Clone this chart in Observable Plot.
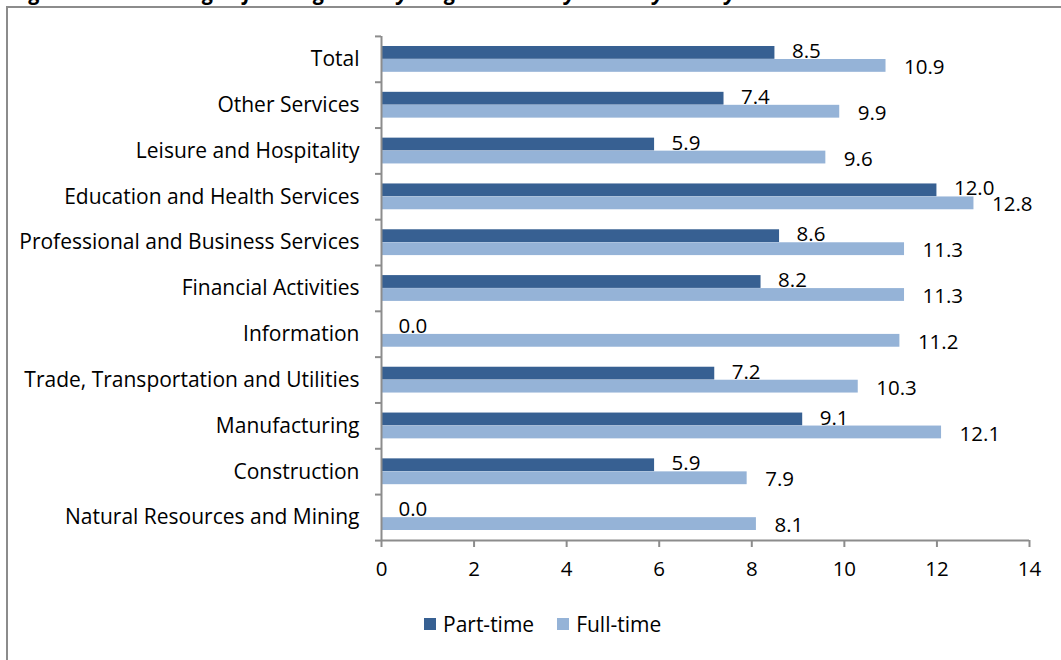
<!DOCTYPE html>
<html>
<head>
<meta charset="utf-8">
<script src="https://cdn.jsdelivr.net/npm/d3@7"></script>
<script src="https://cdn.jsdelivr.net/npm/@observablehq/plot@0.6"></script>
<style>
  html, body { margin: 0; padding: 0; background: #fff; }
  body { width: 1061px; height: 660px; overflow: hidden; position: relative; font-family: "Open Sans", sans-serif; }
  #title { position: absolute; left: 12px; top: -22px; font: bold italic 21px "Open Sans", sans-serif; white-space: nowrap; color: #000; }
  #frame { position: absolute; left: 6px; top: 6px; width: 1100px; height: 700px; border-left: 2px solid #8c8c8c; border-top: 2px solid #8c8c8c; box-sizing: border-box; }
  #chart { position: absolute; left: 0; top: 0; }
  #legend { position: absolute; left: 424px; top: 610px; display: flex; align-items: center; font-size: 21px; color: #000; }
  .item { display: flex; align-items: center; margin-right: 23px; }
  .sw { width: 12px; height: 12px; margin-right: 7px; }
</style>
</head>
<body>
<div id="title">Figure 10: Percentage of Average Hourly Wage Growth by Industry and by Work Status</div>
<div id="frame"></div>
<div id="chart"></div>
<div id="legend"></div>
<script>
const categories = [
  "Total",
  "Other Services",
  "Leisure and Hospitality",
  "Education and Health Services",
  "Professional and Business Services",
  "Financial Activities",
  "Information",
  "Trade, Transportation and Utilities",
  "Manufacturing",
  "Construction",
  "Natural Resources and Mining"
];
const partTime = [8.5, 7.4, 5.9, 12.0, 8.6, 8.2, 0.0, 7.2, 9.1, 5.9, 0.0];
const fullTime = [10.9, 9.9, 9.6, 12.8, 11.3, 11.3, 11.2, 10.3, 12.1, 7.9, 8.1];
const seriesNames = ["Part-time", "Full-time"];
const xTicks = [0, 2, 4, 6, 8, 10, 12, 14];

const colors = ["#376092", "#95b3d7"];
const gray = "#8c8c8c";
const fs = 20.5;

const ptRows = categories.map((c, i) => ({category: c, series: seriesNames[0], value: partTime[i]}));
const ftRows = categories.map((c, i) => ({category: c, series: seriesNames[1], value: fullTime[i]}));
const fmt = d => d.value.toFixed(1);

const chart = Plot.plot({
  width: 1061,
  height: 600,
  marginLeft: 381,
  marginRight: 32,
  marginTop: 36,
  marginBottom: 60,
  style: {fontFamily: "'Open Sans', sans-serif", fontSize: fs + "px", color: "#000", background: "transparent", overflow: "visible"},
  x: {domain: [0, 14]},
  y: {domain: categories, padding: 0, round: false},
  marks: [
    Plot.barX(ptRows, {x: "value", y: "category", fill: colors[0], insetTop: 10, insetBottom: 23}),
    Plot.barX(ftRows, {x: "value", y: "category", fill: colors[1], insetTop: 23, insetBottom: 10}),
    Plot.text(ptRows, {x: "value", y: "category", text: fmt, textAnchor: "start", dx: 17, dy: -8, fill: "#000", fontSize: fs}),
    Plot.text(ftRows, {x: "value", y: "category", text: fmt, textAnchor: "start", dx: 18, dy: 8, fill: "#000", fontSize: fs}),
    Plot.ruleX([0], {stroke: gray, strokeWidth: 2}),
    Plot.ruleY([categories[categories.length - 1]], {dy: 23, stroke: gray, strokeWidth: 2}),
    Plot.axisY({tickSize: 0, tickPadding: 22, fontSize: 21, fill: "#000", label: null}),
    Plot.axisY({tickSize: 6, tickFormat: () => "", dy: -23, stroke: gray, strokeWidth: 2, label: null}),
    Plot.axisY({ticks: [categories[categories.length - 1]], tickSize: 6, tickFormat: () => "", dy: 23, stroke: gray, strokeWidth: 2, label: null}),
    Plot.axisX({ticks: xTicks, tickSize: 7, tickPadding: 14, stroke: gray, strokeWidth: 2, fontSize: fs, fill: "#000", label: null})
  ]
});
document.getElementById("chart").appendChild(chart);

const legend = document.getElementById("legend");
seriesNames.forEach((name, i) => {
  const item = document.createElement("div");
  item.className = "item";
  const sw = document.createElement("div");
  sw.className = "sw";
  sw.style.background = colors[i];
  const label = document.createElement("span");
  label.textContent = name;
  item.appendChild(sw);
  item.appendChild(label);
  legend.appendChild(item);
});
</script>
</body>
</html>
